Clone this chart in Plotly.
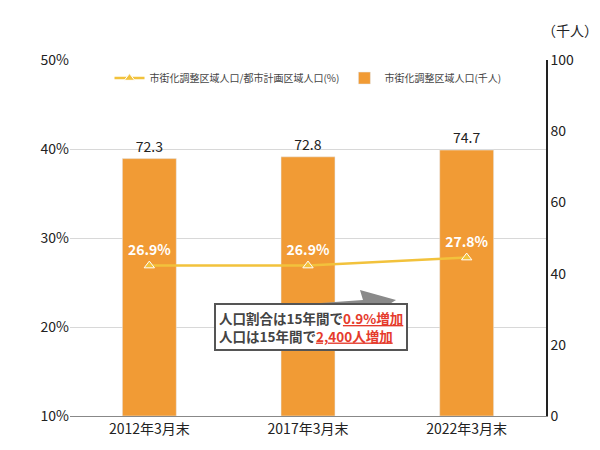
import plotly.graph_objects as go

categories = ["2012年3月末", "2017年3月末", "2022年3月末"]
population = [72.3, 72.8, 74.7]
ratio = [26.9, 26.9, 27.8]
left_ticks = [10, 20, 30, 40, 50]
right_ticks = [0, 20, 40, 60, 80, 100]

FONT = "Noto Sans CJK JP"
L, R, T, B = 62, 62, 52, 42
W, H = 600, 450
PW, PH = W - L - R, H - T - B


def px(x, y):
    return (x - L) / PW, (H - B - y) / PH


fig = go.Figure()
fig.add_trace(go.Bar(
    x=categories, y=population, name="市街化調整区域人口(千人)", yaxis="y",
    marker_color="#f19b35", width=0.34,
    text=[f"{v:.1f}" for v in population], textposition="outside",
    textfont=dict(size=14, color="#222"), cliponaxis=False,
))
fig.add_trace(go.Scatter(
    x=categories, y=ratio, name="市街化調整区域人口/都市計画区域人口(%)", yaxis="y2",
    mode="lines+markers+text", line=dict(color="#f2c23c", width=2.5),
    marker=dict(symbol="triangle-up", size=9, color="#f2c23c", line=dict(color="#fff", width=1)),
    text=[f"<b>{v:.1f}%</b>" for v in ratio], textposition="top center",
    textfont=dict(size=14, color="white"),
))

# arrow polygon
pts = [(215, 302), (355, 292), (352, 282), (388, 292), (356, 312), (356, 306), (215, 318)]
path = "M " + " L ".join(f"{px(a, b)[0]:.4f},{px(a, b)[1]:.4f}" for a, b in pts) + " Z"
fig.add_shape(type="path", path=path, xref="paper", yref="paper",
              fillcolor="#8a8a8a", line=dict(width=0), layer="above")

red = "color:#e53b2c;text-decoration:underline"
bx, by = px(303, 343)
fig.add_annotation(
    xref="paper", yref="paper", x=bx, y=by, showarrow=False,
    text=f"<b>人口割合は15年間で<span style='{red}'>0.9%増加</span><br>"
         f"人口は15年間で<span style='{red}'>2,400人増加</span></b>",
    align="left", font=dict(size=13.5, color="#444", family=FONT),
    bgcolor="white", bordercolor="#555", borderwidth=2, borderpad=3,
)
fig.add_annotation(xref="paper", yref="paper", x=px(562, 0)[0], y=1.05, text="（千人）",
                   showarrow=False, xanchor="center", yanchor="bottom",
                   font=dict(size=14, color="#222"))

fig.update_layout(
    width=W, height=H, margin=dict(l=L, r=R, t=T, b=B, autoexpand=False),
    paper_bgcolor="white", plot_bgcolor="white",
    font=dict(family=FONT, size=14, color="#222"),
    showlegend=True,
    legend=dict(orientation="h", x=0.5, xanchor="center", y=0.99, yanchor="top",
                font=dict(size=10, color="#444"), traceorder="reversed",
                bgcolor="rgba(0,0,0,0)"),
    xaxis=dict(showline=True, linecolor="#888", tickfont=dict(size=14),
               ticks="", automargin=False),
    yaxis=dict(range=[0, 100], tickvals=right_ticks, side="right",
               showgrid=False, showline=True, linecolor="#222", linewidth=1.5,
               zeroline=False, automargin=False),
    yaxis2=dict(range=[10, 50], tickvals=left_ticks,
                ticktext=[f"{v}%" for v in left_ticks], overlaying="y", side="left",
                showgrid=True, gridcolor="#d8d8d8", zeroline=False, automargin=False),
)

fig.write_html("out.html")
